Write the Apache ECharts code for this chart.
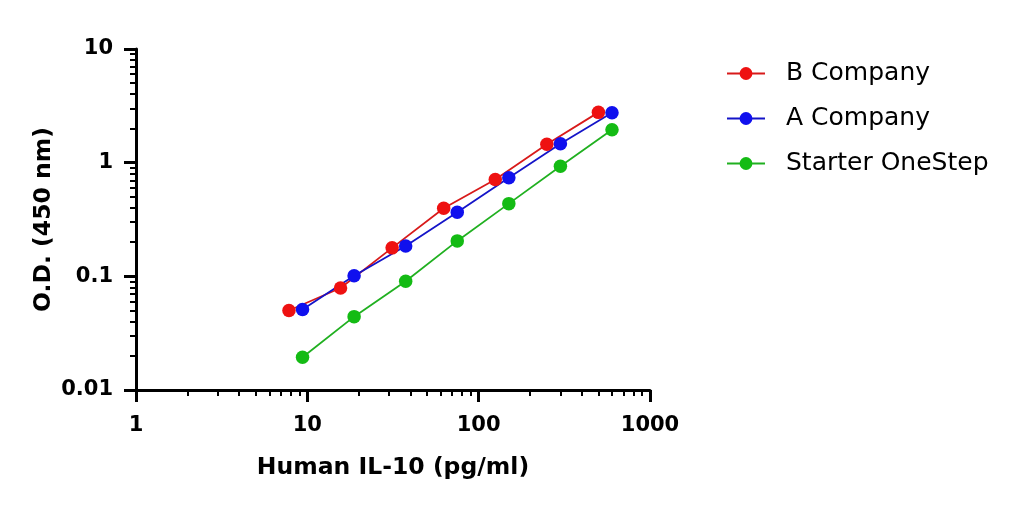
<!DOCTYPE html>
<html>
<head>
<meta charset="utf-8">
<script src="https://cdn.jsdelivr.net/npm/echarts@6/dist/echarts.min.js"></script>
<style>
html,body{margin:0;padding:0;background:#fff;}
#c{width:1015px;height:507px;}
</style>
</head>
<body>
<div id="c"></div>
<script>
// Data
var seriesNames = ['B Company', 'A Company', 'Starter OneStep'];
var xB = [7.8125, 15.625, 31.25, 62.5, 125, 250, 500];
var yB = [0.050, 0.079, 0.178, 0.397, 0.71, 1.45, 2.77];
var xA = [9.375, 18.75, 37.5, 75, 150, 300, 600];
var yA = [0.051, 0.101, 0.185, 0.366, 0.738, 1.47, 2.75];
var xS = [9.375, 18.75, 37.5, 75, 150, 300, 600];
var yS = [0.0194, 0.0442, 0.0904, 0.205, 0.436, 0.929, 1.95];
var xMajorTicks = [1, 10, 100, 1000];
var yMajorTicks = [0.01, 0.1, 1, 10];
var xMinorTicks = [2,3,4,5,6,7,8,9,20,30,40,50,60,70,80,90,200,300,400,500,600,700,800,900];
var yMinorTicks = [0.02,0.03,0.04,0.05,0.06,0.07,0.08,0.09,0.2,0.3,0.4,0.5,0.6,0.7,0.8,0.9,2,3,4,5,6,7,8,9];
var xTitle = 'Human IL-10 (pg/ml)';
var yTitle = 'O.D. (450 nm)';

function pairs(xs, ys) { return xs.map(function (x, i) { return [x, ys[i]]; }); }

var colors = ['#ee1111', '#1010ee', '#14bb14'];
var lineColors = ['#d81a1a', '#1414c8', '#20b020'];

var chart = echarts.init(document.getElementById('c'), null, {renderer: 'canvas'});
var labelFont = {fontFamily: 'DejaVu Sans', fontWeight: 'bold', fontSize: 21, color: '#000'};

function mk(name, data, i) {
  return {
    name: name, type: 'line', data: data, smooth: false,
    xAxisIndex: 0, yAxisIndex: 0,
    symbol: 'circle', symbolSize: 13.5,
    itemStyle: {color: colors[i]},
    lineStyle: {color: lineColors[i], width: 1.8},
    emphasis: {disabled: true}
  };
}

chart.setOption({
  animation: false,
  backgroundColor: '#fff',
  grid: {left: 136, right: 365, top: 49, bottom: 117, containLabel: false},
  legend: {
    orient: 'vertical', left: 721, top: 56,
    itemWidth: 38, itemHeight: 16, itemGap: 20,
    data: seriesNames,
    textStyle: {fontFamily: 'DejaVu Sans', fontSize: 25, color: '#000', padding: [0, 0, 0, 16]}
  },
  xAxis: [{
    type: 'log', logBase: 10, min: 1, max: 1000, position: 'bottom',
    name: xTitle, nameLocation: 'middle', nameGap: 66,
    nameTextStyle: {fontFamily: 'DejaVu Sans', fontWeight: 'bold', fontSize: 23.5, color: '#000'},
    axisLine: {show: true, lineStyle: {color: '#000', width: 3}},
    axisTick: {show: true, length: 12, lineStyle: {color: '#000', width: 3}, customValues: xMajorTicks},
    axisLabel: Object.assign({margin: 25, customValues: xMajorTicks, formatter: function (v) { return String(v); }}, labelFont),
    splitLine: {show: false}
  }, {
    type: 'log', logBase: 10, min: 1, max: 1000, position: 'bottom',
    axisLine: {show: false},
    axisTick: {show: true, length: 6, lineStyle: {color: '#000', width: 2}, customValues: xMinorTicks},
    axisLabel: {show: false},
    splitLine: {show: false}
  }],
  yAxis: [{
    type: 'log', logBase: 10, min: 0.01, max: 10, position: 'left',
    name: yTitle, nameLocation: 'middle', nameGap: 80, nameRotate: 90, nameMoveOverlap: false,
    nameTextStyle: {fontFamily: 'DejaVu Sans', fontWeight: 'bold', fontSize: 23.5, color: '#000'},
    axisLine: {show: true, lineStyle: {color: '#000', width: 3}},
    axisTick: {show: true, length: 12, lineStyle: {color: '#000', width: 3}, customValues: yMajorTicks},
    axisLabel: Object.assign({margin: 23, customValues: yMajorTicks, formatter: function (v) { return String(v); }}, labelFont),
    splitLine: {show: false}
  }, {
    type: 'log', logBase: 10, min: 0.01, max: 10, position: 'left',
    axisLine: {show: false},
    axisTick: {show: true, length: 6, lineStyle: {color: '#000', width: 2}, customValues: yMinorTicks},
    axisLabel: {show: false},
    splitLine: {show: false}
  }],
  series: [
    mk(seriesNames[0], pairs(xB, yB), 0),
    mk(seriesNames[1], pairs(xA, yA), 1),
    mk(seriesNames[2], pairs(xS, yS), 2)
  ]
});
</script>
</body>
</html>
